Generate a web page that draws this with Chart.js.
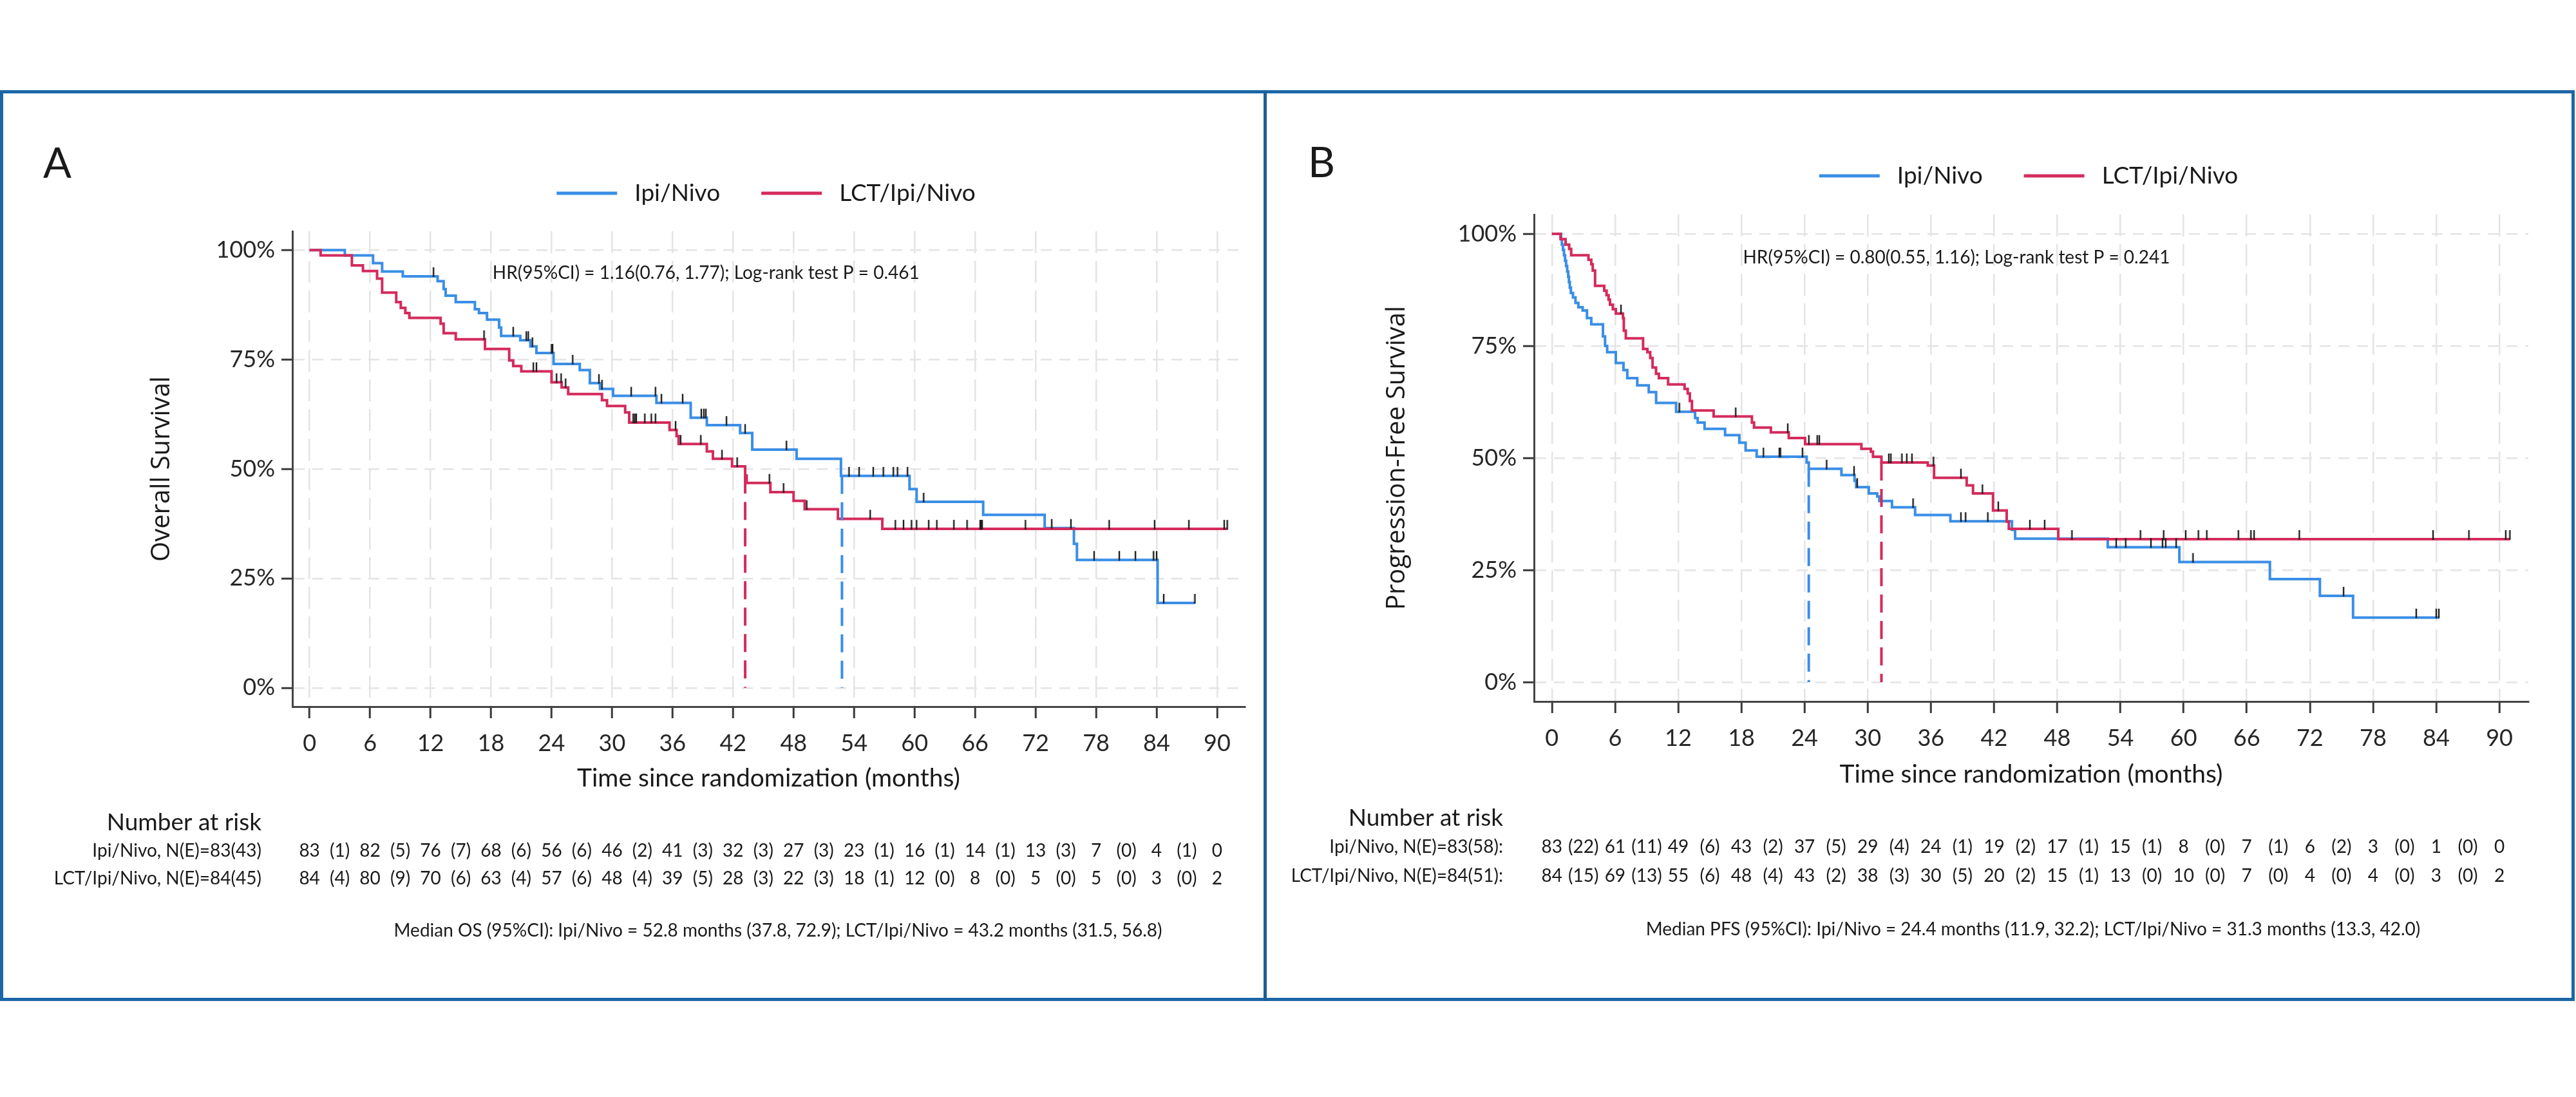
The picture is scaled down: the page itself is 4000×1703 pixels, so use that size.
<!DOCTYPE html>
<html>
<head>
<meta charset="utf-8">
<script src="https://cdn.jsdelivr.net/npm/chart.js@4.4.1/dist/chart.umd.min.js"></script>
<style>
  html, body { margin: 0; padding: 0; background: #fff; }
  body { width: 4000px; height: 1703px; position: relative; overflow: hidden; }
  canvas { position: absolute; top: 0; }
  #frame { position: absolute; left: 0; top: 140px; width: 3998px; height: 1414px; border: 5px solid #1b67a6; box-sizing: border-box; }
  #divider { position: absolute; left: 1962px; top: 140px; width: 5px; height: 1414px; background: #1b5f96; }
</style>
</head>
<body>
<div id="frame"></div>
<div id="divider"></div>
<canvas id="osChart" width="1965" height="1703" style="left:0"></canvas>
<canvas id="pfsChart" width="2035" height="1703" style="left:1965px"></canvas>
<script>
// axes
const xTicks = [0, 6, 12, 18, 24, 30, 36, 42, 48, 54, 60, 66, 72, 78, 84, 90];
const yTicks = [0, 25, 50, 75, 100];
const groups = ['Ipi/Nivo', 'LCT/Ipi/Nivo'];

// overall survival (%)
const osIpiTime = [0, 3.5, 6.3, 7.2, 9.25, 12.7, 13.3, 13.5, 14.5, 16.4, 16.8, 17.6, 18.8, 19.0, 20.9, 21.9, 22.5, 24.2, 26.8, 27.8, 28.8, 30.1, 34.4, 37.8, 39.4, 42.7, 43.9, 48.3, 52.7, 59.5, 60.2, 66.8, 72.9, 75.8, 76.1, 84.1, 87.8];
const osIpiSurv = [100, 98.8, 97.0, 95.1, 94.0, 92.9, 91.1, 89.6, 88.1, 86.5, 85.6, 84.1, 82.3, 80.4, 79.4, 78.0, 76.5, 74.0, 72.6, 69.6, 68.3, 66.7, 65.1, 61.7, 60.0, 58.2, 54.4, 52.3, 48.4, 45.4, 42.5, 39.5, 36.5, 32.9, 29.2, 19.4, 19.4];
const osIpiCensor = [12.3, 20.2, 21.5, 21.7, 22.1, 24.0, 24.1, 26.1, 28.7, 29.0, 31.9, 34.3, 34.9, 37.0, 38.85, 39.1, 39.3, 41.35, 43.2, 47.3, 53.5, 54.5, 55.9, 56.9, 57.9, 58.3, 59.3, 60.9, 73.6, 75.5, 77.8, 80.3, 81.9, 83.7, 84.0, 84.7, 87.8];
const osLctTime = [0, 1.1, 4.2, 5.3, 6.7, 7.2, 8.6, 9.05, 9.5, 9.9, 13.0, 13.3, 14.5, 17.4, 19.8, 20.2, 21.0, 24.0, 25.0, 25.65, 29.0, 29.5, 31.3, 31.7, 35.7, 36.4, 36.6, 39.4, 40.0, 41.9, 43.2, 43.35, 45.7, 48.0, 49.1, 52.4, 56.8, 91.05];
const osLctSurv = [100, 98.8, 96.5, 95.2, 93.5, 90.3, 88.1, 86.8, 85.6, 84.5, 83.2, 81.0, 79.6, 77.4, 74.8, 73.5, 72.3, 69.8, 68.6, 67.1, 65.7, 64.4, 62.9, 60.6, 58.9, 57.5, 55.7, 54.0, 52.3, 50.6, 48.5, 46.8, 44.7, 42.7, 40.8, 38.6, 36.3, 36.3];
const osLctCensor = [17.3, 22.2, 22.5, 24.5, 24.95, 25.4, 32.1, 32.25, 32.4, 33.25, 33.9, 34.3, 36.3, 36.8, 38.8, 40.9, 42.4, 45.6, 47.0, 49.3, 55.6, 58.1, 58.9, 59.7, 60.2, 61.4, 62.2, 63.9, 65.2, 66.5, 66.6, 66.7, 71.0, 79.3, 83.8, 87.2, 90.7, 91.0];
const osMedian = [52.8, 43.2];
const osRiskIpi = [83, 82, 76, 68, 56, 46, 41, 32, 27, 23, 16, 14, 13, 7, 4, 0];
const osEventsIpi = [1, 5, 7, 6, 6, 2, 3, 3, 3, 1, 1, 1, 3, 0, 1];
const osRiskLct = [84, 80, 70, 63, 57, 48, 39, 28, 22, 18, 12, 8, 5, 5, 3, 2];
const osEventsLct = [4, 9, 6, 4, 6, 4, 5, 3, 3, 1, 0, 0, 0, 0, 0];

// progression-free survival
const pfsIpiTime = [0, 0.87, 0.95, 1.05, 1.15, 1.25, 1.35, 1.45, 1.55, 1.62, 1.7, 1.8, 2.0, 2.24, 2.51, 2.92, 3.33, 3.74, 4.85, 5.05, 5.25, 6.07, 6.8, 7.16, 8.11, 9.2, 9.9, 11.8, 13.6, 13.85, 14.5, 16.45, 17.8, 18.4, 19.45, 24.2, 24.4, 27.5, 28.75, 28.9, 30.1, 30.9, 31.1, 32.3, 34.5, 37.85, 43.7, 44.0, 52.8, 59.6, 68.2, 72.95, 76.1, 84.25];
const pfsIpiSurv = [100, 98.8, 97.6, 96.4, 95.2, 94.0, 92.8, 91.6, 90.4, 89.2, 88.0, 86.8, 85.8, 84.6, 83.6, 82.9, 81.2, 79.8, 77.1, 75.0, 73.6, 71.2, 69.6, 67.8, 66.2, 64.7, 62.3, 60.3, 58.9, 57.9, 56.5, 55.1, 53.4, 51.7, 50.3, 49.0, 47.6, 46.2, 44.9, 43.5, 42.1, 41.4, 40.4, 39.0, 37.3, 35.9, 34.0, 32.0, 30.1, 26.8, 23.0, 19.25, 14.4, 14.4];
const pfsIpiCensor = [12.1, 20.1, 21.6, 21.7, 23.8, 26.1, 28.7, 29.0, 34.3, 38.85, 39.3, 41.4, 53.6, 54.5, 56.9, 58.0, 58.3, 59.3, 60.9, 75.2, 82.1, 84.0, 84.25];
const pfsLctTime = [0, 0.82, 1.3, 1.64, 1.83, 3.47, 3.74, 3.88, 4.1, 4.97, 5.19, 5.38, 5.52, 5.79, 6.07, 6.75, 6.83, 7.02, 8.66, 9.07, 9.34, 9.56, 9.89, 10.16, 11.04, 12.6, 12.9, 13.1, 13.3, 15.36, 19.0, 19.2, 20.8, 22.5, 24.05, 29.4, 30.3, 30.5, 31.3, 35.7, 36.3, 39.4, 40.0, 41.9, 43.2, 43.4, 48.1, 91.0];
const pfsLctSurv = [100, 98.8, 97.6, 96.6, 95.2, 94.2, 93.2, 91.8, 88.4, 87.3, 86.3, 85.3, 84.2, 83.2, 82.2, 81.2, 78.4, 76.7, 74.3, 73.6, 72.3, 70.2, 68.8, 67.8, 66.4, 65.4, 64.4, 62.7, 60.6, 59.25, 57.9, 56.8, 55.7, 54.45, 53.1, 52.05, 51.4, 50.3, 49.0, 48.3, 45.6, 43.9, 42.1, 38.3, 35.8, 34.2, 31.9, 31.9];
const pfsLctCensor = [6.56, 17.46, 22.4, 24.4, 25.2, 25.4, 32.0, 32.2, 33.25, 33.7, 34.2, 36.25, 38.85, 40.9, 42.4, 45.4, 46.8, 49.4, 55.9, 58.1, 60.2, 61.4, 62.2, 65.2, 66.4, 66.7, 71.0, 83.7, 87.1, 90.6, 91.0];
const pfsMedian = [24.4, 31.3];
const pfsRiskIpi = [83, 61, 49, 43, 37, 29, 24, 19, 17, 15, 8, 7, 6, 3, 1, 0];
const pfsEventsIpi = [22, 11, 6, 2, 5, 4, 1, 2, 1, 1, 0, 1, 2, 0, 0];
const pfsRiskLct = [84, 69, 55, 48, 43, 38, 30, 20, 15, 13, 10, 7, 4, 4, 3, 2];
const pfsEventsLct = [15, 13, 6, 4, 2, 3, 5, 2, 1, 0, 0, 0, 0, 0, 0];

const colors = ['#3a8ee6', '#d42b5c'];
const ink = '#1a1a1a';

Chart.defaults.font.family = 'Lato';
Chart.defaults.color = ink;

// censor mark: short vertical bar sitting on the curve
const tickMark = document.createElement('canvas');
tickMark.width = 4;
tickMark.height = 30;
const tm = tickMark.getContext('2d');
tm.fillStyle = '#1e1e1e';
tm.fillRect(0.8, 1, 2.4, 15);

function survAt(ts, ss, t) {
    let s = ss[0];
    for (let i = 0; i < ts.length; i++) {
        if (ts[i] <= t) s = ss[i]; else break;
    }
    return s;
}

function panelText(p) {
    return {
        id: 'panelText',
        afterDraw(chart) {
            const { ctx, chartArea: a } = chart;
            const x = chart.scales.x, y = chart.scales.y;
            ctx.save();
            ctx.fillStyle = ink;
            ctx.textBaseline = 'middle';

            ctx.textAlign = 'left';
            ctx.font = '65px Lato';
            ctx.fillText(p.letter, p.letterPos[0], p.letterPos[1]);

            // legend above the plot
            ctx.font = '37px Lato';
            const w = groups.map(g => ctx.measureText(g).width);
            const total = 2 * (94 + 27) + w[0] + w[1] + 64;
            let lx = (a.left + a.right) / 2 - 4 - total / 2;
            const ly = a.top - p.legendUp;
            groups.forEach((g, i) => {
                ctx.strokeStyle = colors[i];
                ctx.lineWidth = 5;
                ctx.beginPath();
                ctx.moveTo(lx, ly);
                ctx.lineTo(lx + 94, ly);
                ctx.stroke();
                lx += 94 + 27;
                ctx.fillText(g, lx, ly);
                lx += w[i] + 64;
            });

            ctx.font = '28px Lato';
            ctx.fillText(p.hr, x.getPixelForValue(18.15), y.getPixelForValue(94.7));

            // number at risk table
            const rx = a.left - 48;
            ctx.textAlign = 'right';
            ctx.font = '37px Lato';
            ctx.fillText('Number at risk', rx, p.riskY[0]);
            ctx.font = '28px Lato';
            p.rows.forEach((row, r) => {
                const ry = p.riskY[r + 1];
                ctx.textAlign = 'right';
                ctx.fillText(p.rowLabels[r], rx, ry);
                ctx.textAlign = 'center';
                row[0].forEach((n, i) => ctx.fillText(String(n), x.getPixelForValue(xTicks[i]), ry));
                row[1].forEach((e, i) => ctx.fillText('(' + e + ')', x.getPixelForValue(xTicks[i] + 3), ry));
            });

            ctx.textAlign = 'center';
            ctx.fillText(p.median, p.medianPos[0], p.medianPos[1]);
            ctx.restore();
        }
    };
}

function kmChart(id, p) {
    const pts = (ts, ss) => ts.map((t, i) => ({ x: t, y: ss[i] }));
    const cens = (ts, ss, cs) => cs.map(t => ({ x: t, y: survAt(ts, ss, t) }));
    const med = (ts, ss, m) => [{ x: m, y: survAt(ts, ss, m) }, { x: m, y: 0 }];
    const censorSet = data => ({ data, showLine: false, pointStyle: tickMark, pointRadius: 8, borderWidth: 0 });
    const medianSet = (data, c) => ({ data, borderColor: c, borderWidth: 4, borderDash: [28, 13], pointRadius: 0 });
    const curveSet = (data, c) => ({ data, borderColor: c, borderWidth: 4, stepped: true, pointRadius: 0 });

    new Chart(document.getElementById(id), {
        type: 'line',
        data: {
            datasets: [
                censorSet(cens(p.lct[0], p.lct[1], p.lct[2])),
                censorSet(cens(p.ipi[0], p.ipi[1], p.ipi[2])),
                medianSet(med(p.lct[0], p.lct[1], p.medians[1]), colors[1]),
                medianSet(med(p.ipi[0], p.ipi[1], p.medians[0]), colors[0]),
                curveSet(pts(p.lct[0], p.lct[1]), colors[1]),
                curveSet(pts(p.ipi[0], p.ipi[1]), colors[0])
            ]
        },
        options: {
            responsive: false,
            animation: false,
            devicePixelRatio: 1,
            events: [],
            layout: { padding: { left: p.pad[0], top: p.pad[1], right: p.pad[2], bottom: p.pad[3] } },
            plugins: { legend: { display: false }, tooltip: { enabled: false } },
            scales: {
                x: {
                    type: 'linear', min: -1.7, max: 92.75,
                    afterBuildTicks: s => { s.ticks = xTicks.map(v => ({ value: v })); },
                    afterFit: s => { s.height = 150; },
                    ticks: { font: { size: 36 }, color: '#262626', padding: 18, maxRotation: 0, autoSkip: false, callback: v => v },
                    grid: { color: '#e4e4e4', lineWidth: 2.5, tickLength: 18, tickColor: '#3a3a3a', tickWidth: 3 },
                    border: { color: '#444', width: 3, dash: [34, 12] },
                    title: { display: true, text: 'Time since randomization (months)', font: { size: 39 }, color: ink, padding: { top: 0, bottom: p.xTitlePad } }
                },
                y: {
                    min: -4.3, max: 104.3,
                    afterBuildTicks: s => { s.ticks = yTicks.map(v => ({ value: v })); },
                    afterFit: s => { s.width = p.yAxisW; },
                    ticks: { font: { size: 36 }, color: '#262626', padding: 10, callback: v => v + '%' },
                    grid: { color: '#e4e4e4', lineWidth: 2.5, tickLength: 17, tickColor: '#3a3a3a', tickWidth: 3 },
                    border: { color: '#444', width: 3, dash: [17, 12] },
                    title: { display: true, text: p.yTitle, font: { family: 'Open Sans', size: 40 }, color: ink, padding: { top: p.yTitlePad, bottom: 0 } }
                }
            }
        },
        plugins: [panelText(p)]
    });
}

kmChart('osChart', {
    ipi: [osIpiTime, osIpiSurv, osIpiCensor],
    lct: [osLctTime, osLctSurv, osLctCensor],
    medians: osMedian,
    pad: [150, 359, 32, 456], yAxisW: 304, xTitlePad: 15.6, yTitlePad: 78,
    yTitle: 'Overall Survival',
    letter: 'A', letterPos: [67, 255], legendUp: 59,
    hr: 'HR(95%CI) = 1.16(0.76, 1.77); Log-rank test P = 0.461',
    riskY: [1277, 1321, 1364],
    rowLabels: ['Ipi/Nivo, N(E)=83(43)', 'LCT/Ipi/Nivo, N(E)=84(45)'],
    rows: [[osRiskIpi, osEventsIpi], [osRiskLct, osEventsLct]],
    median: 'Median OS (95%CI): Ipi/Nivo = 52.8 months (37.8, 72.9); LCT/Ipi/Nivo = 43.2 months (31.5, 56.8)',
    medianPos: [1208, 1445]
});

kmChart('pfsChart', {
    ipi: [pfsIpiTime, pfsIpiSurv, pfsIpiCensor],
    lct: [pfsLctTime, pfsLctSurv, pfsLctCensor],
    medians: pfsMedian,
    pad: [130, 333, 74, 464], yAxisW: 287, xTitlePad: 13.6, yTitlePad: 51,
    yTitle: 'Progression-Free Survival',
    letter: 'B', letterPos: [66, 254], legendUp: 60,
    hr: 'HR(95%CI) = 0.80(0.55, 1.16); Log-rank test P = 0.241',
    riskY: [1270, 1315, 1360],
    rowLabels: ['Ipi/Nivo, N(E)=83(58):', 'LCT/Ipi/Nivo, N(E)=84(51):'],
    rows: [[pfsRiskIpi, pfsEventsIpi], [pfsRiskLct, pfsEventsLct]],
    median: 'Median PFS (95%CI): Ipi/Nivo = 24.4 months (11.9, 32.2); LCT/Ipi/Nivo = 31.3 months (13.3, 42.0)',
    medianPos: [1192, 1443]
});
</script>
</body>
</html>
